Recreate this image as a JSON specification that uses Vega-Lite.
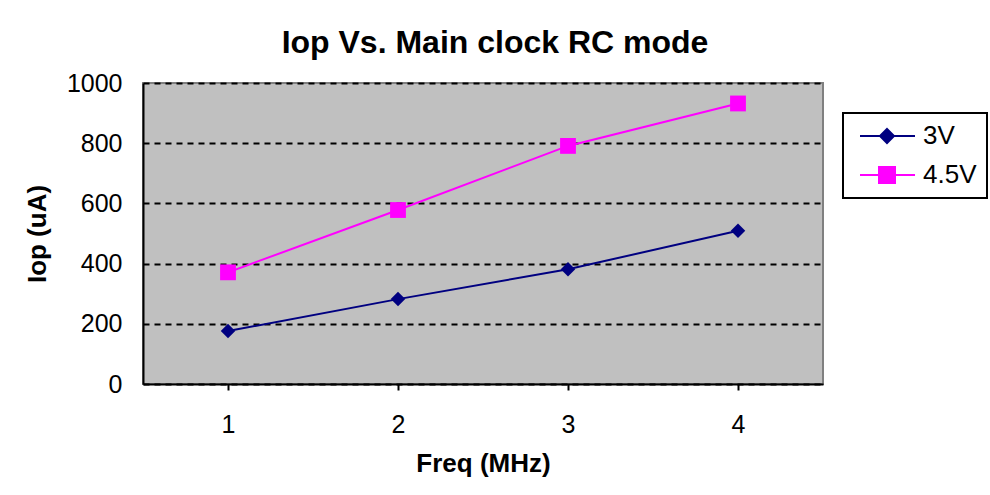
{
  "$schema": "https://vega.github.io/schema/vega-lite/v6.json",
  "autosize": {"type": "none"},
  "width": 680,
  "height": 301,
  "padding": {"left": 143, "top": 83, "right": 167, "bottom": 111},
  "background": "white",
  "title": {
    "text": "Iop Vs. Main clock RC mode",
    "font": "Liberation Sans",
    "fontSize": 32,
    "fontWeight": "bold",
    "color": "black",
    "baseline": "alphabetic",
    "offset": 32,
    "dx": 12,
    "dy": 46
  },
  "config": {
    "view": {"stroke": "#808080", "strokeWidth": 2, "fill": "#C0C0C0"},
    "font": "Liberation Sans",
    "axis": {
      "labelFont": "Liberation Sans",
      "titleFont": "Liberation Sans",
      "labelColor": "black",
      "titleColor": "black",
      "domainColor": "black",
      "domainWidth": 2,
      "tickColor": "black"
    }
  },
  "data": {
    "values": [
      {"freq": 1, "iop": 176, "series": "3V"},
      {"freq": 2, "iop": 282, "series": "3V"},
      {"freq": 3, "iop": 381, "series": "3V"},
      {"freq": 4, "iop": 509, "series": "3V"},
      {"freq": 1, "iop": 371, "series": "4.5V"},
      {"freq": 2, "iop": 578, "series": "4.5V"},
      {"freq": 3, "iop": 791, "series": "4.5V"},
      {"freq": 4, "iop": 932, "series": "4.5V"}
    ]
  },
  "encoding": {
    "x": {
      "field": "freq",
      "type": "quantitative",
      "scale": {"domain": [0.5, 4.5], "nice": false, "zero": false},
      "axis": {
        "title": "Freq (MHz)",
        "values": [1, 2, 3, 4],
        "format": "d",
        "grid": false,
        "tickSize": 6,
        "tickWidth": 2,
        "labelFontSize": 25,
        "labelPadding": 22,
        "titleFontSize": 26,
        "titleFontWeight": "bold",
        "titlePadding": 13
      }
    },
    "y": {
      "field": "iop",
      "type": "quantitative",
      "scale": {"domain": [0, 1000], "nice": false},
      "axis": {
        "title": "Iop (uA)",
        "values": [0, 200, 400, 600, 800, 1000],
        "format": "d",
        "ticks": false,
        "labelFontSize": 25,
        "labelPadding": 21,
        "titleFontSize": 26,
        "titleFontWeight": "bold",
        "titlePadding": 16,
        "grid": true,
        "gridColor": "black",
        "gridWidth": 2,
        "gridDash": [6, 5],
        "gridOpacity": 1
      }
    },
    "color": {
      "field": "series",
      "type": "nominal",
      "scale": {"domain": ["3V", "4.5V"], "range": ["#000080", "#FF00FF"]},
      "legend": {
        "title": null,
        "orient": "none",
        "legendX": 700,
        "legendY": 30,
        "strokeColor": "black",
        "fillColor": "white",
        "padding": 10,
        "labelFontSize": 26,
        "labelFont": "Liberation Sans",
        "labelColor": "black",
        "labelOffset": 44,
        "symbolSize": 400,
        "rowPadding": 13,
        "encode": {
          "legend": {"update": {"strokeWidth": {"value": 2}}},
          "symbols": {
            "update": {
              "shape": {"signal": "datum.value === '3V' ? 'M-0.6,0H4.9M2.1,-0.7L2.8,0L2.1,0.7L1.4,0Z' : 'M-0.6,0H4.9M1.3,-0.8H2.9V0.8H1.3Z'"},
              "fill": {"signal": "datum.value === '3V' ? '#000080' : '#FF00FF'"},
              "stroke": {"signal": "datum.value === '3V' ? '#000080' : '#FF00FF'"},
              "strokeWidth": {"value": 2},
              "opacity": {"value": 1},
              "fillOpacity": {"value": 1}
            }
          }
        }
      }
    }
  },
  "layer": [
    {
      "mark": {"type": "line", "strokeWidth": 2}
    },
    {
      "transform": [{"filter": "datum.series === '3V'"}],
      "mark": {"type": "point", "filled": true, "opacity": 1, "shape": "diamond", "size": 210}
    },
    {
      "transform": [{"filter": "datum.series === '4.5V'"}],
      "mark": {"type": "point", "filled": true, "opacity": 1, "shape": "square", "size": 250}
    }
  ]
}
